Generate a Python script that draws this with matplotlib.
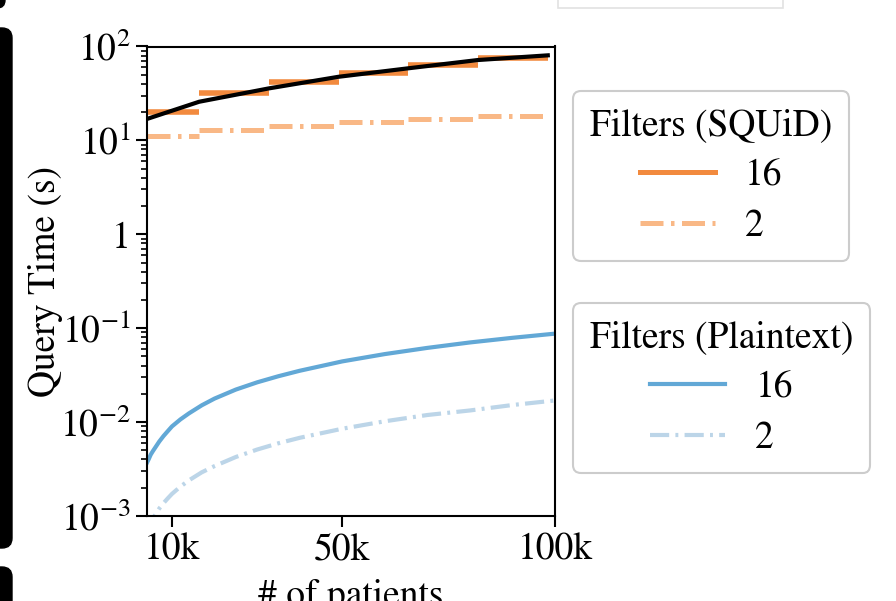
import matplotlib
matplotlib.use('Agg')
import matplotlib.pyplot as plt
from matplotlib.patches import FancyBboxPatch, Rectangle
from matplotlib.transforms import IdentityTransform
from matplotlib.ticker import FixedLocator, FixedFormatter, NullFormatter
from matplotlib.lines import Line2D

plt.rcParams['font.family'] = ['STIXGeneral', 'Liberation Serif', 'DejaVu Serif']
plt.rcParams['mathtext.fontset'] = 'stix'
FS = 27

# SQUiD, 16 / 2 filters: one time per patient-count bucket
step_edges = [4096, 16384, 32768, 49152, 65536, 81920, 98304]
squid16 = [20.0, 31.6, 42.0, 52.4, 63.2, 75.1]
squid2 = [11.2, 12.8, 14.1, 15.6, 16.8, 18.1]
# trend through the 16-filter steps
fit_x = [4096, 16384, 32768, 49152, 65536, 81920, 98304]
fit_y = [16.9, 25.8, 35.8, 47.6, 58.6, 71.8, 80.5]

# plaintext
plain_x = [4000, 4500, 5000, 5500, 6000, 7000, 8000, 9000, 10000, 12000, 14000,
           17000, 20000, 25000, 30000, 35000, 40000, 50000, 60000, 70000,
           80000, 90000, 100000]
plain16 = [0.0036, 0.0040, 0.0045, 0.0049, 0.0053, 0.0062, 0.0071, 0.0080,
           0.0090, 0.0107, 0.0124, 0.0151, 0.0178, 0.0222, 0.0265, 0.0308,
           0.0352, 0.0443, 0.0530, 0.0617, 0.0705, 0.0790, 0.0875]
plain2 = [0.00068, 0.00077, 0.00086, 0.00094, 0.00102, 0.00120, 0.00137,
          0.00154, 0.00172, 0.00206, 0.00240, 0.00292, 0.00340, 0.00425,
          0.00510, 0.00595, 0.00680, 0.00850, 0.01020, 0.01190, 0.01330,
          0.01520, 0.01700]

ytick_vals = [1e-3, 1e-2, 1e-1, 1, 10, 100]
ytick_labels = [r'$10^{-3}$', r'$10^{-2}$', r'$10^{-1}$', '1', r'$10^{1}$', r'$10^{2}$']
xtick_vals = [10000, 50000, 100000]
xtick_labels = ['10k', '50k', '100k']

C_OR = '#f28a3e'
C_OR_L = '#f9b886'
C_BL = '#62a8d6'
C_BL_L = '#bcd5e8'
DASHDOT = (4.6, 1.5, 0.7, 1.5)

fig = plt.figure(figsize=(8.96, 6.01), dpi=100)
ax = fig.add_axes([147 / 896, 1 - 516 / 601, 408 / 896, 469.5 / 601])

# each bucket is its own horizontal segment (no risers)
for i in range(len(squid16)):
    ax.plot(step_edges[i:i + 2], [squid16[i]] * 2, color=C_OR, lw=4.0,
            solid_capstyle='butt')
    ax.plot(step_edges[i:i + 2], [squid2[i]] * 2, color=C_OR_L, lw=3.6,
            dashes=DASHDOT)
ax.plot(fit_x, fit_y, color='black', lw=3.0, zorder=5)
ax.plot(plain_x, plain16, color=C_BL, lw=3.0)
ax.plot(plain_x, plain2, color=C_BL_L, lw=3.0, dashes=DASHDOT)

ax.set_yscale('log')
ax.set_ylim(1e-3, 100)
ax.set_xlim(4130, 100000)
ax.yaxis.set_major_locator(FixedLocator(ytick_vals))
ax.yaxis.set_major_formatter(FixedFormatter(ytick_labels))
ax.yaxis.set_minor_formatter(NullFormatter())
ax.set_xticks(xtick_vals)
ax.set_xticklabels(xtick_labels)
ax.tick_params(axis='both', which='major', labelsize=FS, length=8, width=1.5, pad=4)
ax.tick_params(axis='y', which='minor', length=4.5, width=1.2)
for s in ax.spines.values():
    s.set_linewidth(1.5)
ax.set_ylabel('Query Time (s)', fontsize=FS, labelpad=-2)
ax.set_xlabel('# of patients', fontsize=FS, labelpad=8)

legend_kw = dict(loc='upper left', fontsize=FS, title_fontsize=FS, frameon=True,
                 fancybox=True, edgecolor='#cccccc', framealpha=1, borderaxespad=0,
                 handlelength=2.0, labelspacing=0.42, borderpad=0.45,
                 handletextpad=0.8)
h16 = Line2D([], [], color=C_OR, lw=3.6)
h2 = Line2D([], [], color=C_OR_L, lw=3.6, dashes=DASHDOT)
leg1 = fig.legend([h16, h2], ['16', '2'], title='Filters (SQUiD)',
                  bbox_to_anchor=(573 / 896, 1 - 91 / 601), **legend_kw)
b16 = Line2D([], [], color=C_BL, lw=3.0)
b2 = Line2D([], [], color=C_BL_L, lw=3.0, dashes=DASHDOT)
leg2 = fig.legend([b16, b2], ['16', '2'], title='Filters (Plaintext)',
                  bbox_to_anchor=(573 / 896, 1 - 303 / 601), **legend_kw)
for lg in (leg1, leg2):
    lg.get_frame().set_linewidth(1.5)

# page elements around the cropped figure
fig.patches.append(FancyBboxPatch((-30, 601 - 548), 42, 520,
                                  boxstyle='round,pad=0,rounding_size=10',
                                  transform=IdentityTransform(), color='black'))
fig.patches.append(FancyBboxPatch((-30, -40), 42, 601 - 567 + 40,
                                  boxstyle='round,pad=0,rounding_size=10',
                                  transform=IdentityTransform(), color='black'))
fig.patches.append(FancyBboxPatch((-30, 601 - 8), 35, 40,
                                  boxstyle='round,pad=0,rounding_size=8',
                                  transform=IdentityTransform(), color='black'))
fig.patches.append(Rectangle((558, 601 - 8), 225, 20, transform=IdentityTransform(),
                             facecolor='white', edgecolor='#e2e2e2', lw=1.2))

fig.savefig('out.png', dpi=100)
